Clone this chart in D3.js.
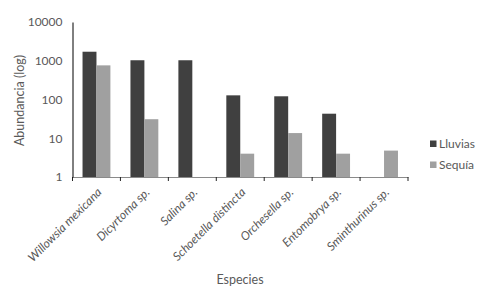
<!DOCTYPE html>
<html><head><meta charset="utf-8">
<script src="https://cdn.jsdelivr.net/npm/d3@7"></script>
<style>body{margin:0;background:#fff}svg{display:block}</style>
</head><body>
<script>
const categories = ["Willowsia mexicana","Dicyrtoma sp.","Salina sp.","Schoetella distincta","Orchesella sp.","Entomobrya sp.","Sminthurinus sp."];
const lluvias = [1710, 1030, 1030, 128, 121, 43, null];
const sequia = [760, 31, null, 4, 13.6, 4, 4.8];
const seriesNames = ["Lluvias","Sequía"];
const yTicks = [1,10,100,1000,10000];
const colors = ["#404040","#a0a0a0"];

const W=480,H=293;
const svg=d3.select("body").append("svg").attr("width",W).attr("height",H);
const x0=72.5,x1=408,yTop=22,yBot=177;
const x=d3.scaleBand().domain(categories).range([x0,x1]).paddingInner(0).paddingOuter(0);
const xs=d3.scaleBand().domain(seriesNames).range([0,x.bandwidth()]).paddingInner(0).paddingOuter(0.72);
const y=d3.scaleLog().domain([1,10000]).range([yBot,yTop]);
const font="Lato, 'Open Sans', sans-serif";
const txt="#595959";

// x axis
const xa=svg.append("g").attr("transform",`translate(0,${yBot})`)
  .call(d3.axisBottom(x).tickSize(0).tickFormat(""));
xa.select(".domain").attr("stroke","#8a8a8a").attr("stroke-width",1);
const edges=categories.map(c=>x(c)).concat([x1]);
svg.append("g").selectAll("line").data(edges).join("line")
  .attr("x1",d=>d).attr("x2",d=>d).attr("y1",yBot).attr("y2",yBot+4)
  .attr("stroke","#222").attr("stroke-width",1);

// bars
const data=[lluvias,sequia];
data.forEach((vals,si)=>{
  svg.append("g").selectAll("rect").data(categories.map((c,i)=>({c,v:vals[i]})).filter(d=>d.v!=null))
    .join("rect")
    .attr("x",d=>x(d.c)+xs(seriesNames[si]))
    .attr("width",xs.bandwidth())
    .attr("y",d=>y(d.v))
    .attr("height",d=>yBot-y(d.v))
    .attr("fill",colors[si]);
});

// y axis
const ya=svg.append("g").attr("transform",`translate(${x0},0)`)
  .call(d3.axisLeft(y).tickValues(yTicks).tickFormat(d3.format("d")).tickSize(0).tickPadding(10));
ya.select(".domain").attr("stroke","#000").attr("stroke-width",1);
ya.selectAll("text").attr("fill",txt).style("font-family",font).style("font-size","12px");

// rotated labels
svg.append("g").selectAll("text").data(categories).join("text")
  .attr("transform",d=>`translate(${x(d)+x.bandwidth()/2+6},${yBot+16}) rotate(-45)`)
  .attr("text-anchor","end")
  .attr("fill",txt).style("font-family",font).style("font-size","12px").style("font-style","italic")
  .text(d=>d);

// axis titles
svg.append("text").attr("transform",`translate(24,${(yTop+yBot)/2+1}) rotate(-90)`)
  .attr("text-anchor","middle").attr("fill",txt).style("font-family",font).style("font-size","12.5px")
  .text("Abundancia (log)");
svg.append("text").attr("x",240).attr("y",284).attr("text-anchor","middle")
  .attr("fill",txt).style("font-family",font).style("font-size","12.5px").text("Especies");

// legend
const lg=svg.append("g");
seriesNames.forEach((s,i)=>{
  lg.append("rect").attr("x",430).attr("y",140.5+i*21).attr("width",6.5).attr("height",6.5).attr("fill",colors[i]);
  lg.append("text").attr("x",439).attr("y",147.5+i*21).attr("fill",txt)
    .style("font-family",font).style("font-size","12px").text(s);
});
</script>
</body></html>
